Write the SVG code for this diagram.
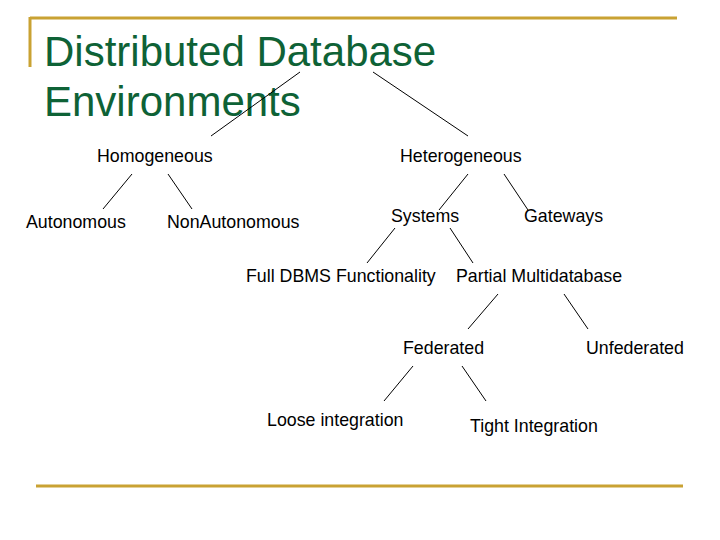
<svg xmlns="http://www.w3.org/2000/svg" width="720" height="540" viewBox="0 0 720 540">
<style>
.gold{stroke:#C9A233;stroke-width:3;fill:none}
.title{font-family:"Liberation Sans",Arial,sans-serif;font-size:42px;fill:#0E6236}
.lbl{font-family:"Liberation Sans",Arial,sans-serif;font-size:17.8px;fill:#000}
.c line{stroke:#000;stroke-width:1}
</style>
<rect width="720" height="540" fill="#fff"/>
<g id="frame">
<line class="gold" x1="30" y1="18" x2="677" y2="18"/>
<line class="gold" x1="30" y1="17" x2="30" y2="67"/>
<line class="gold" x1="36" y1="486" x2="683" y2="486"/>
</g>
<g id="title">
<text class="title" x="44" y="66">Distributed Database</text>
<text class="title" x="44" y="116">Environments</text>
</g>
<g id="connectors" class="c">
<line x1="300" y1="72" x2="211" y2="136"/>
<line x1="373" y1="72" x2="468" y2="136"/>
<line x1="132" y1="174" x2="103" y2="209"/>
<line x1="168" y1="174" x2="192" y2="209"/>
<line x1="468" y1="174" x2="439" y2="210"/>
<line x1="504" y1="174" x2="528" y2="210"/>
<line x1="395" y1="228" x2="367" y2="263"/>
<line x1="450" y1="228" x2="473" y2="263"/>
<line x1="498" y1="294" x2="468" y2="329"/>
<line x1="564" y1="294" x2="588" y2="329"/>
<line x1="413" y1="366" x2="384" y2="401"/>
<line x1="462" y1="366" x2="486" y2="401"/>
</g>
<g id="homogeneous"><text class="lbl" x="97" y="162">Homogeneous</text></g>
<g id="heterogeneous"><text class="lbl" x="400" y="162">Heterogeneous</text></g>
<g id="autonomous"><text class="lbl" x="26" y="228">Autonomous</text></g>
<g id="nonautonomous"><text class="lbl" x="167" y="228">NonAutonomous</text></g>
<g id="systems"><text class="lbl" x="391" y="222">Systems</text></g>
<g id="gateways"><text class="lbl" x="524" y="222">Gateways</text></g>
<g id="fulldbms"><text class="lbl" x="246" y="282">Full DBMS Functionality</text></g>
<g id="partial"><text class="lbl" x="456" y="282">Partial Multidatabase</text></g>
<g id="federated"><text class="lbl" x="403" y="354">Federated</text></g>
<g id="unfederated"><text class="lbl" x="586" y="354">Unfederated</text></g>
<g id="loose"><text class="lbl" x="267" y="426">Loose integration</text></g>
<g id="tight"><text class="lbl" x="470" y="432">Tight Integration</text></g>
</svg>
